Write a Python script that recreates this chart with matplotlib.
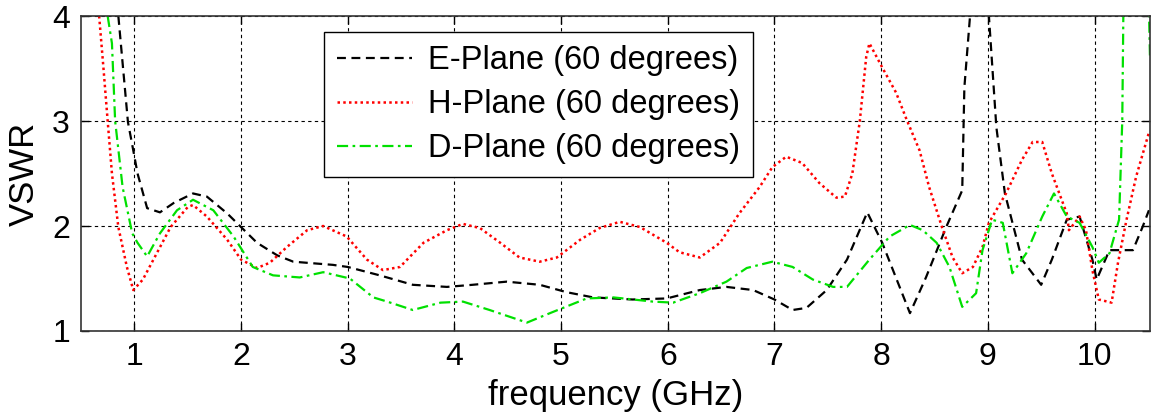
import matplotlib

matplotlib.use("Agg")

import matplotlib.pyplot as plt

plt.rcParams["font.family"] = ["Liberation Sans", "DejaVu Sans"]

# E-Plane (black dashed)
e_freq = [0.85, 0.94, 0.99, 1.03, 1.12, 1.24, 1.37, 1.55, 1.68, 1.87, 2.0, 2.15, 2.34, 2.49,
          2.86, 3.0, 3.3, 3.61, 3.93, 4.17, 4.49, 4.8, 5.05, 5.3, 5.67, 5.99, 6.3, 6.55, 6.8,
          7.0, 7.17, 7.3, 7.49, 7.68, 7.87, 8.01, 8.27, 8.42, 8.61, 8.76, 8.78, 8.83, 8.92,
          9.01, 9.08, 9.16, 9.32, 9.5, 9.6, 9.74, 9.86, 9.98, 10.02, 10.14, 10.36, 10.45, 10.51]
e_vswr = [4.0, 2.99, 2.72, 2.5, 2.17, 2.13, 2.22, 2.31, 2.28, 2.12, 1.99, 1.84, 1.72, 1.66,
          1.63, 1.61, 1.53, 1.44, 1.42, 1.44, 1.47, 1.44, 1.37, 1.32, 1.3, 1.31, 1.39, 1.42, 1.39,
          1.3, 1.2, 1.22, 1.39, 1.68, 2.13, 1.84, 1.17, 1.51, 1.99, 2.34, 3.32, 3.96, 5.0,
          4.0, 2.94, 2.31, 1.68, 1.44, 1.68, 2.06, 2.09, 1.68, 1.49, 1.77, 1.77, 1.99, 2.15]

# H-Plane (red dotted)
h_freq = [0.67, 0.71, 0.75, 0.79, 0.85, 0.93, 0.99, 1.08, 1.21, 1.34, 1.5, 1.55, 1.68, 1.87,
          2.0, 2.15, 2.27, 2.43, 2.62, 2.77, 2.99, 3.18, 3.33, 3.49, 3.71, 3.93, 4.08, 4.24,
          4.43, 4.61, 4.8, 4.96, 5.18, 5.36, 5.55, 5.74, 5.99, 6.11, 6.3, 6.49, 6.67, 6.86,
          6.98, 7.11, 7.26, 7.42, 7.58, 7.66, 7.73, 7.8, 7.86, 7.89, 8.01, 8.14, 8.24, 8.36,
          8.45, 8.57, 8.67, 8.76, 8.86, 8.95, 9.01, 9.17, 9.32, 9.42, 9.51, 9.6, 9.74, 9.76,
          9.86, 9.92, 9.98, 10.04, 10.16, 10.22, 10.3, 10.39, 10.51]
h_vswr = [4.0, 3.51, 3.0, 2.5, 1.99, 1.61, 1.39, 1.49, 1.74, 1.99, 2.18, 2.2, 2.09, 1.87,
          1.68, 1.6, 1.65, 1.8, 1.96, 2.0, 1.9, 1.68, 1.58, 1.61, 1.84, 1.96, 2.02, 1.98,
          1.84, 1.7, 1.66, 1.7, 1.87, 1.98, 2.04, 1.99, 1.84, 1.75, 1.7, 1.84, 2.12, 2.37,
          2.56, 2.66, 2.6, 2.41, 2.27, 2.28, 2.5, 3.0, 3.61, 3.74, 3.51, 3.27, 3.01, 2.72,
          2.37, 1.99, 1.7, 1.55, 1.61, 1.8, 2.03, 2.31, 2.63, 2.8, 2.8, 2.5, 2.12, 1.96,
          2.09, 1.96, 1.58, 1.3, 1.27, 1.65, 2.06, 2.47, 2.89]

# D-Plane (green dash-dot)
d_freq = [0.75, 0.79, 0.82, 0.89, 0.98, 1.03, 1.12, 1.24, 1.4, 1.55, 1.74, 1.93, 2.11, 2.3,
          2.55, 2.77, 3.02, 3.24, 3.37, 3.61, 3.87, 4.08, 4.33, 4.68, 4.92, 5.24, 5.49, 5.86,
          6.05, 6.3, 6.55, 6.74, 6.98, 7.17, 7.36, 7.55, 7.68, 7.89, 8.08, 8.27, 8.39, 8.52,
          8.64, 8.76, 8.89, 8.95, 9.04, 9.14, 9.23, 9.36, 9.51, 9.62, 9.74, 9.86, 9.98, 10.04,
          10.14, 10.23, 10.26, 10.28, 10.49, 10.52]
d_vswr = [4.0, 3.74, 3.0, 2.37, 1.93, 1.84, 1.71, 1.93, 2.15, 2.25, 2.15, 1.9, 1.61, 1.53,
          1.51, 1.56, 1.5, 1.32, 1.28, 1.2, 1.27, 1.28, 1.2, 1.08, 1.18, 1.31, 1.32, 1.28,
          1.27, 1.36, 1.47, 1.6, 1.66, 1.61, 1.49, 1.42, 1.42, 1.68, 1.9, 2.01, 1.96, 1.84,
          1.61, 1.23, 1.36, 1.77, 2.06, 2.03, 1.55, 1.74, 2.09, 2.31, 2.09, 2.03, 1.8, 1.65,
          1.74, 2.06, 3.0, 5.0, 5.0, 3.6]

labels = ["E-Plane (60 degrees)", "H-Plane (60 degrees)", "D-Plane (60 degrees)"]

fig = plt.figure(figsize=(11.51, 4.16), dpi=100)
ax = fig.add_axes([81 / 1151, 85 / 416, 1069 / 1151, 315 / 416])

ax.plot(e_freq, e_vswr, color="black", linestyle=(0, (4, 2.5)), linewidth=1.6, label=labels[0])
ax.plot(h_freq, h_vswr, color="#ff0000", linestyle=(0, (1, 1.3)), linewidth=1.8, label=labels[1])
ax.plot(d_freq, d_vswr, color="#00e000", linestyle=(0, (5, 2, 1.2, 2)), linewidth=1.6, label=labels[2])

ax.set_xlim(0.5, 10.52)
ax.set_ylim(1, 4)
ax.set_xticks(range(1, 11))
ax.set_yticks([1, 2, 3, 4])
ax.tick_params(direction="in", length=6, width=1, top=True, right=True, labelsize=23, pad=8)
ax.grid(True, color="black", linestyle=(0, (3, 3)), linewidth=0.8)
for side in ax.spines.values():
    side.set_linewidth(1.2)
    side.set_color("#333333")

ax.set_xlabel("frequency (GHz)", fontsize=25, labelpad=5)
ax.set_ylabel("VSWR", fontsize=25, labelpad=8)

leg = ax.legend(loc="upper left", bbox_to_anchor=(0.2273, 0.949), borderaxespad=0,
                fontsize=23.5, fancybox=False, framealpha=1, edgecolor="black",
                handlelength=2.3, labelspacing=0.4, borderpad=0.4, handletextpad=0.5)
leg.get_frame().set_linewidth(1.0)

fig.savefig("out.png", dpi=100)
